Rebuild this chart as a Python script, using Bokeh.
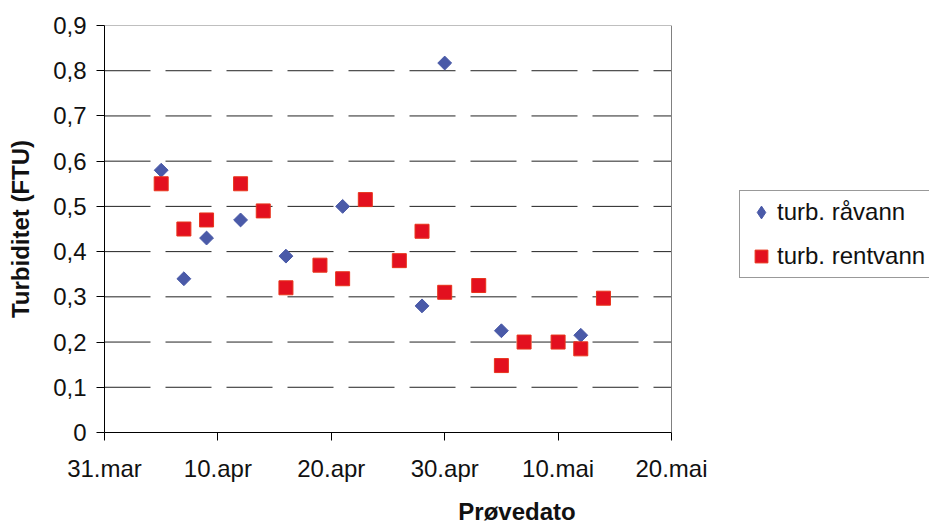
import numpy as np
import pandas as pd
from bokeh.plotting import figure
from bokeh.models import Range1d, FixedTicker, Legend, LegendItem, ColumnDataSource
from bokeh.embed import file_html
from bokeh.resources import INLINE

# ---- data ----
raw_dates = ["2004-04-05", "2004-04-07", "2004-04-09", "2004-04-12", "2004-04-16",
             "2004-04-21", "2004-04-28", "2004-04-30", "2004-05-05", "2004-05-12"]
raw_values = [0.58, 0.34, 0.43, 0.47, 0.39, 0.50, 0.28, 0.817, 0.225, 0.215]

clean_dates = ["2004-04-05", "2004-04-07", "2004-04-09", "2004-04-12", "2004-04-14",
               "2004-04-16", "2004-04-19", "2004-04-21", "2004-04-23", "2004-04-26",
               "2004-04-28", "2004-04-30", "2004-05-03", "2004-05-05", "2004-05-07",
               "2004-05-10", "2004-05-12", "2004-05-14"]
clean_values = [0.55, 0.45, 0.47, 0.55, 0.49, 0.32, 0.37, 0.34, 0.515, 0.38,
                0.445, 0.31, 0.325, 0.148, 0.20, 0.20, 0.185, 0.297]

series_labels = ["turb. råvann", "turb. rentvann"]

x_tick_dates = ["2004-03-31", "2004-04-10", "2004-04-20", "2004-04-30", "2004-05-10", "2004-05-20"]
x_tick_labels = ["31.mar", "10.apr", "20.apr", "30.apr", "10.mai", "20.mai"]
y_ticks = [0.0, 0.1, 0.2, 0.3, 0.4, 0.5, 0.6, 0.7, 0.8, 0.9]
y_tick_labels = ["0", "0,1", "0,2", "0,3", "0,4", "0,5", "0,6", "0,7", "0,8", "0,9"]
y_grid_ticks = [0.1, 0.2, 0.3, 0.4, 0.5, 0.6, 0.7, 0.8]

x_title = "Prøvedato"
y_title = "Turbiditet (FTU)"

# ---- layout (pixels) ----
W, H = 929, 527
LEFT, TOP, BOTTOM = 104, 25, 95
PLOT_AREA_W = 567          # width of the chart's plot area (31.mar .. 20.mai)
FONT = "Liberation Sans"
BLUE, RED, RED_EDGE = "#4A5AA8", "#E3101F", "#E8341C"


def to_ms(s):
    return pd.Timestamp(s).value / 1e6


raw_src = ColumnDataSource(dict(x=pd.to_datetime(raw_dates), y=raw_values))
clean_src = ColumnDataSource(dict(x=pd.to_datetime(clean_dates), y=clean_values))

x_tick_ms = [to_ms(d) for d in x_tick_dates]
x0, x1 = x_tick_ms[0], x_tick_ms[-1]
# frame spans the whole right side so the legend (drawn in the frame) is not clipped
frame_w = W - LEFT
x_end = x0 + (x1 - x0) * frame_w / PLOT_AREA_W
y0, y1 = y_ticks[0], y_ticks[-1]

p = figure(width=W, height=H, output_backend="svg", toolbar_location=None,
           x_axis_type="datetime",
           x_range=Range1d(x0, x_end),
           y_range=Range1d(y0, y1),
           min_border_left=LEFT, min_border_right=0, min_border_top=TOP, min_border_bottom=BOTTOM)

p.background_fill_color = "white"
p.border_fill_color = "white"
p.outline_line_color = None

# axes
p.xaxis.ticker = FixedTicker(ticks=x_tick_ms)
p.xaxis.major_label_overrides = {t: l for t, l in zip(x_tick_ms, x_tick_labels)}
p.xaxis.bounds = (x0, x1)
p.yaxis.ticker = FixedTicker(ticks=y_ticks)
p.yaxis.major_label_overrides = {t: l for t, l in zip(y_ticks, y_tick_labels)}

for ax in (p.xaxis, p.yaxis):
    ax.axis_line_color = "black"
    ax.major_tick_line_color = "black"
    ax.minor_tick_line_color = None
    ax.major_tick_in = 0
    ax.major_tick_out = 8
    ax.major_label_text_font = FONT
    ax.major_label_text_font_size = "24px"
    ax.major_label_text_color = "#111111"
    ax.axis_label_text_font = FONT
    ax.axis_label_text_font_size = "24px"
    ax.axis_label_text_font_style = "bold"
    ax.axis_label_text_color = "#111111"

p.xaxis.axis_label = x_title
p.yaxis.axis_label = y_title
p.xaxis.major_label_standoff = 14
p.xaxis.axis_label_standoff = 13
p.yaxis.major_label_standoff = 10
p.yaxis.axis_label_standoff = 16

# grid: dashed horizontal lines only across the plot area
p.xgrid.grid_line_color = None
p.ygrid.grid_line_color = None
n = len(y_grid_ticks)
p.segment(x0=[x0] * n, x1=[x1] * n, y0=y_grid_ticks, y1=y_grid_ticks,
          line_color="#222222", line_width=1, line_dash="46 15")

# plot-area border (top and right)
p.line(x=[x0, x1, x1], y=[y1, y1, y0], line_color="#808080", line_width=1)

# glyphs (diamonds drawn as 45-degree rotated squares)
r_raw = p.scatter("x", "y", source=raw_src, marker="square", size=9.8, angle=np.pi / 4,
                  fill_color=BLUE, line_color=BLUE)
r_clean = p.scatter("x", "y", source=clean_src, marker="square", size=14,
                    fill_color=RED, line_color=RED_EDGE)
# legend swatch for the diamond series (legend glyphs ignore marker angle);
# size 0 so it adds nothing to the plot itself
r_raw_key = p.scatter("x", "y", source=raw_src, marker="diamond", size=0,
                      fill_color=BLUE, line_color=BLUE)

legend = Legend(items=[LegendItem(label=series_labels[0], renderers=[r_raw_key]),
                       LegendItem(label=series_labels[1], renderers=[r_clean])],
                location=(739 - LEFT, (H - BOTTOM) - 278))
legend.label_text_font = FONT
legend.label_text_font_size = "24px"
legend.label_text_color = "#111111"
legend.border_line_color = "#333333"
legend.border_line_width = 1
legend.background_fill_color = "white"
legend.background_fill_alpha = 1
legend.padding = 5
legend.spacing = 12
legend.margin = 0
legend.glyph_width = 32
legend.glyph_height = 32
legend.label_standoff = -4
p.add_layout(legend, "center")

open("out.html", "w").write(file_html(p, INLINE))
